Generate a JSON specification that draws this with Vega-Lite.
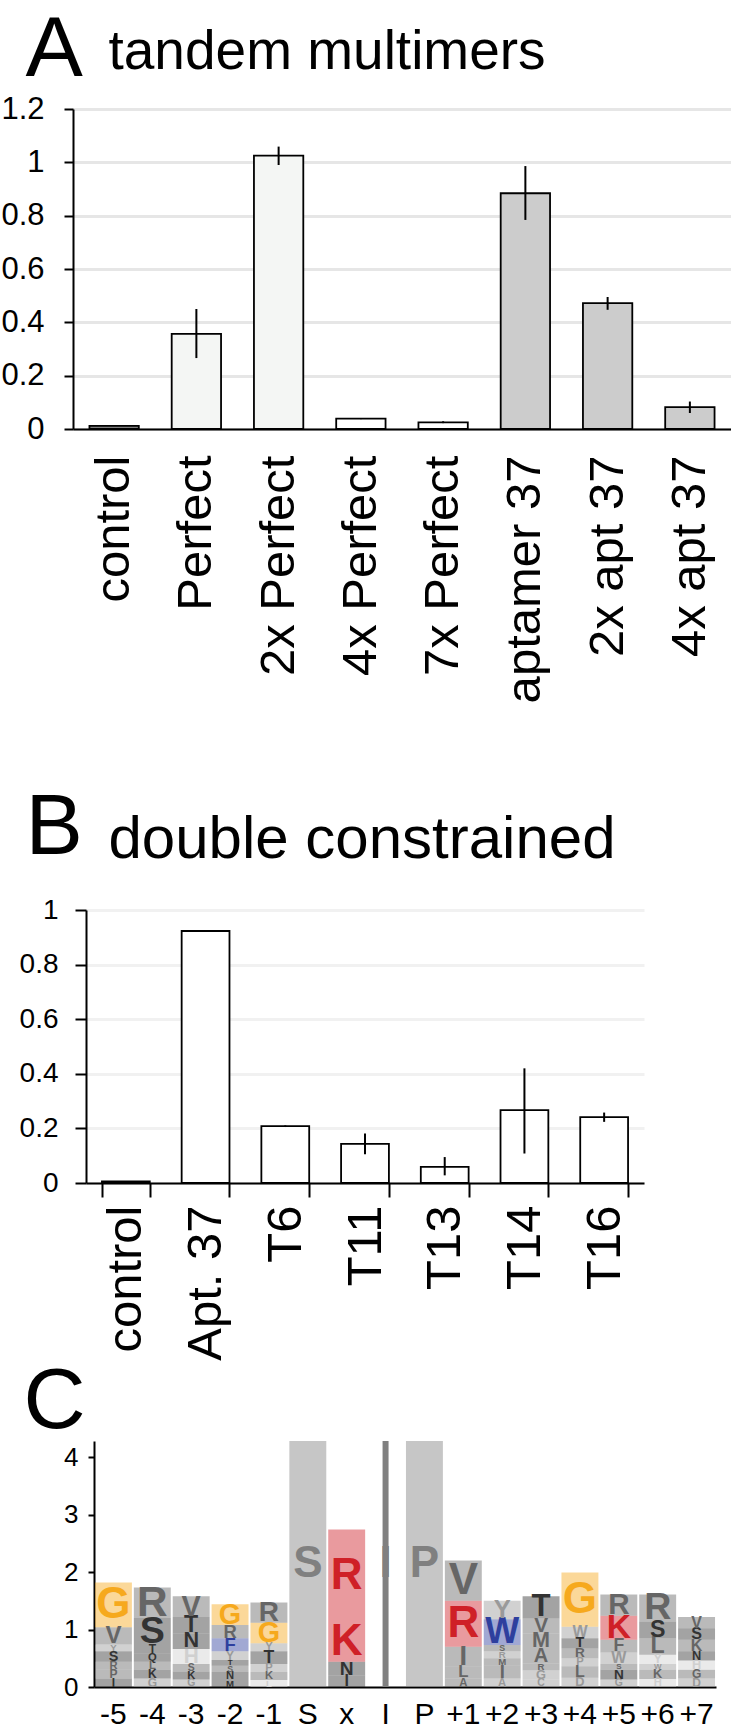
{
  "$schema": "https://vega.github.io/schema/vega-lite/v6.json",
  "background": "white",
  "padding": {"top": 6, "left": 0, "right": 0, "bottom": 0},
  "config": {
    "font": "Liberation Sans",
    "view": {"stroke": null},
    "axis": {"labelFont": "Liberation Sans", "titleFont": "Liberation Sans", "labelColor": "black", "titleColor": "black", "domainColor": "black", "tickColor": "black", "domainWidth": 2, "tickWidth": 2, "titleFontWeight": "normal", "labelLimit": 400, "titleLimit": 1000}
  },
  "spacing": 81,
  "vconcat": [
    {
      "width": 658,
      "height": 320,
      "data": {"values": [
        {"construct": "control", "group": "control", "mean": 0.012, "lo": 0.012, "hi": 0.012},
        {"construct": "Perfect", "group": "perfect", "mean": 0.357, "lo": 0.266, "hi": 0.45},
        {"construct": "2x Perfect", "group": "perfect", "mean": 1.025, "lo": 0.99, "hi": 1.059},
        {"construct": "4x Perfect", "group": "multi", "mean": 0.039, "lo": 0.037, "hi": 0.041},
        {"construct": "7x Perfect", "group": "multi", "mean": 0.025, "lo": 0.022, "hi": 0.029},
        {"construct": "aptamer 37", "group": "aptamer", "mean": 0.884, "lo": 0.784, "hi": 0.986},
        {"construct": "2x apt 37", "group": "aptamer", "mean": 0.472, "lo": 0.447, "hi": 0.495},
        {"construct": "4x apt 37", "group": "aptamer", "mean": 0.082, "lo": 0.06, "hi": 0.103}
      ]},
      "encoding": {
        "x": {"field": "construct", "type": "nominal", "sort": null,
          "scale": {"paddingInner": 0.4, "paddingOuter": 0.2},
          "axis": {"title": "tandem multimers", "titleX": 35, "titleY": -361, "titleAngle": 0, "titleAlign": "left", "titleBaseline": "alphabetic", "titleFontSize": 55,
            "labelAngle": -90, "labelFontSize": 49, "labelPadding": 26, "ticks": false, "tickSize": 0}}
      },
      "layer": [
        {
          "mark": {"type": "bar", "stroke": "black", "strokeWidth": 1.8},
          "encoding": {
            "y": {"field": "mean", "type": "quantitative",
              "scale": {"domain": [0, 1.2], "nice": false},
              "axis": {"title": "A", "titleX": -48, "titleY": -34, "titleAngle": 0, "titleAlign": "left", "titleBaseline": "alphabetic", "titleFontSize": 86,
                "values": [0, 0.2, 0.4, 0.6, 0.8, 1, 1.2], "format": "~g", "labelFontSize": 31, "labelPadding": 20, "tickSize": 9,
                "grid": true, "gridColor": "#e6e6e6", "gridWidth": 3}},
            "fill": {"field": "group", "type": "nominal",
              "scale": {"domain": ["control", "perfect", "multi", "aptamer"], "range": ["#7f7f7f", "#f4f6f4", "#ffffff", "#cccccc"]},
              "legend": null}
          }
        },
        {
          "mark": {"type": "rule", "color": "black", "strokeWidth": 2},
          "encoding": {
            "y": {"field": "lo", "type": "quantitative", "title": "A",
              "axis": {"title": "A", "titleX": -48, "titleY": -34, "titleAngle": 0, "titleAlign": "left", "titleBaseline": "alphabetic", "titleFontSize": 86,
                "values": [0, 0.2, 0.4, 0.6, 0.8, 1, 1.2], "format": "~g", "labelFontSize": 31, "labelPadding": 20, "tickSize": 9,
                "grid": true, "gridColor": "#e6e6e6", "gridWidth": 3}},
            "y2": {"field": "hi"}
          }
        }
      ]
    },
    {
      "spacing": -3,
      "vconcat": [
        {
          "width": 571,
          "height": 273,
          "data": {"values": [
            {"construct": "control", "mean": 0.006, "lo": 0.006, "hi": 0.006},
            {"construct": "Apt. 37", "mean": 0.923, "lo": 0.923, "hi": 0.923},
            {"construct": "T6", "mean": 0.208, "lo": 0.205, "hi": 0.211},
            {"construct": "T11", "mean": 0.143, "lo": 0.105, "hi": 0.181},
            {"construct": "T13", "mean": 0.059, "lo": 0.028, "hi": 0.095},
            {"construct": "T14", "mean": 0.267, "lo": 0.108, "hi": 0.42},
            {"construct": "T16", "mean": 0.241, "lo": 0.224, "hi": 0.258}
          ]},
          "encoding": {
            "x": {"field": "construct", "type": "nominal", "sort": null,
              "scale": {"range": [13, 571], "paddingInner": 0.4, "paddingOuter": 0.2},
              "axis": {"title": "double constrained", "titleX": 35, "titleY": -326, "titleAngle": 0, "titleAlign": "left", "titleBaseline": "alphabetic", "titleFontSize": 60,
                "labelAngle": -90, "labelFontSize": 49, "labelPadding": 8, "tickBand": "extent", "tickSize": 14}}
          },
          "layer": [
            {
              "mark": {"type": "bar", "stroke": "black", "strokeWidth": 1.8, "fill": "white"},
              "encoding": {
                "y": {"field": "mean", "type": "quantitative",
                  "scale": {"domain": [0, 1], "nice": false},
                  "axis": {"title": "B", "offset": -13, "titleX": -61, "titleY": -57, "titleAngle": 0, "titleAlign": "left", "titleBaseline": "alphabetic", "titleFontSize": 86,
                    "values": [0, 0.2, 0.4, 0.6, 0.8, 1], "format": "~g", "labelFontSize": 28, "labelPadding": 17, "tickSize": 11,
                    "grid": true, "gridColor": "#f1f1f1", "gridWidth": 3}}
              }
            },
            {
              "mark": {"type": "rule", "color": "black", "strokeWidth": 2},
              "encoding": {
                "y": {"field": "lo", "type": "quantitative", "title": "B",
                  "axis": {"title": "B", "offset": -13, "titleX": -61, "titleY": -57, "titleAngle": 0, "titleAlign": "left", "titleBaseline": "alphabetic", "titleFontSize": 86,
                    "values": [0, 0.2, 0.4, 0.6, 0.8, 1], "format": "~g", "labelFontSize": 28, "labelPadding": 17, "tickSize": 11,
                    "grid": true, "gridColor": "#f1f1f1", "gridWidth": 3}},
                "y2": {"field": "hi"}
              }
            }
          ]
        },
        {
          "width": 643,
          "height": 246,
          "data": {"values": [
            {"pos": "-5", "letter": "I", "bits": 0.15, "rank": 1, "tone": "dark"},
            {"pos": "-5", "letter": "P", "bits": 0.15, "rank": 2, "tone": "mid"},
            {"pos": "-5", "letter": "R", "bits": 0.14, "rank": 3, "tone": "mid"},
            {"pos": "-5", "letter": "S", "bits": 0.18, "rank": 4, "tone": "dark"},
            {"pos": "-5", "letter": "Y", "bits": 0.12, "rank": 5, "tone": "light"},
            {"pos": "-5", "letter": "V", "bits": 0.30, "rank": 6, "tone": "mid"},
            {"pos": "-5", "letter": "G", "bits": 0.78, "rank": 7, "tone": "orange"},
            {"pos": "-4", "letter": "G", "bits": 0.15, "rank": 1, "tone": "light"},
            {"pos": "-4", "letter": "K", "bits": 0.15, "rank": 2, "tone": "dark"},
            {"pos": "-4", "letter": "L", "bits": 0.14, "rank": 3, "tone": "mid"},
            {"pos": "-4", "letter": "Q", "bits": 0.14, "rank": 4, "tone": "dark"},
            {"pos": "-4", "letter": "T", "bits": 0.15, "rank": 5, "tone": "dark"},
            {"pos": "-4", "letter": "S", "bits": 0.47, "rank": 6, "tone": "dark"},
            {"pos": "-4", "letter": "R", "bits": 0.53, "rank": 7, "tone": "mid"},
            {"pos": "-3", "letter": "G", "bits": 0.13, "rank": 1, "tone": "light"},
            {"pos": "-3", "letter": "K", "bits": 0.14, "rank": 2, "tone": "dark"},
            {"pos": "-3", "letter": "S", "bits": 0.13, "rank": 3, "tone": "mid"},
            {"pos": "-3", "letter": "H", "bits": 0.26, "rank": 4, "tone": "pale"},
            {"pos": "-3", "letter": "N", "bits": 0.27, "rank": 5, "tone": "dark"},
            {"pos": "-3", "letter": "T", "bits": 0.29, "rank": 6, "tone": "dark"},
            {"pos": "-3", "letter": "V", "bits": 0.36, "rank": 7, "tone": "mid"},
            {"pos": "-2", "letter": "M", "bits": 0.12, "rank": 1, "tone": "dark"},
            {"pos": "-2", "letter": "N", "bits": 0.14, "rank": 2, "tone": "dark"},
            {"pos": "-2", "letter": "S", "bits": 0.11, "rank": 3, "tone": "mid"},
            {"pos": "-2", "letter": "T", "bits": 0.10, "rank": 4, "tone": "dark"},
            {"pos": "-2", "letter": "Y", "bits": 0.15, "rank": 5, "tone": "light"},
            {"pos": "-2", "letter": "F", "bits": 0.23, "rank": 6, "tone": "blue"},
            {"pos": "-2", "letter": "R", "bits": 0.23, "rank": 7, "tone": "mid"},
            {"pos": "-2", "letter": "G", "bits": 0.36, "rank": 8, "tone": "orange"},
            {"pos": "-1", "letter": "L", "bits": 0.12, "rank": 1, "tone": "pale"},
            {"pos": "-1", "letter": "K", "bits": 0.14, "rank": 2, "tone": "mid"},
            {"pos": "-1", "letter": "P", "bits": 0.14, "rank": 3, "tone": "light"},
            {"pos": "-1", "letter": "T", "bits": 0.22, "rank": 4, "tone": "dark"},
            {"pos": "-1", "letter": "Y", "bits": 0.14, "rank": 5, "tone": "light"},
            {"pos": "-1", "letter": "G", "bits": 0.36, "rank": 6, "tone": "orange"},
            {"pos": "-1", "letter": "R", "bits": 0.35, "rank": 7, "tone": "mid"},
            {"pos": "S", "letter": "S", "bits": 4.28, "rank": 1, "tone": "grey"},
            {"pos": "x", "letter": "I", "bits": 0.20, "rank": 1, "tone": "dark"},
            {"pos": "x", "letter": "N", "bits": 0.24, "rank": 2, "tone": "dark"},
            {"pos": "x", "letter": "K", "bits": 0.69, "rank": 3, "tone": "red"},
            {"pos": "x", "letter": "R", "bits": 1.61, "rank": 4, "tone": "red"},
            {"pos": "I", "letter": "I", "bits": 4.28, "rank": 1, "tone": "grey"},
            {"pos": "P", "letter": "P", "bits": 4.28, "rank": 1, "tone": "grey"},
            {"pos": "+1", "letter": "A", "bits": 0.15, "rank": 1, "tone": "mid"},
            {"pos": "+1", "letter": "L", "bits": 0.21, "rank": 2, "tone": "mid"},
            {"pos": "+1", "letter": "I", "bits": 0.34, "rank": 3, "tone": "mid"},
            {"pos": "+1", "letter": "R", "bits": 0.80, "rank": 4, "tone": "red"},
            {"pos": "+1", "letter": "V", "bits": 0.70, "rank": 5, "tone": "mid"},
            {"pos": "+2", "letter": "A", "bits": 0.15, "rank": 1, "tone": "light"},
            {"pos": "+2", "letter": "I", "bits": 0.23, "rank": 2, "tone": "mid"},
            {"pos": "+2", "letter": "M", "bits": 0.12, "rank": 3, "tone": "mid"},
            {"pos": "+2", "letter": "R", "bits": 0.12, "rank": 4, "tone": "light"},
            {"pos": "+2", "letter": "S", "bits": 0.11, "rank": 5, "tone": "mid"},
            {"pos": "+2", "letter": "W", "bits": 0.45, "rank": 6, "tone": "blue"},
            {"pos": "+2", "letter": "Y", "bits": 0.32, "rank": 7, "tone": "light"},
            {"pos": "+3", "letter": "C", "bits": 0.13, "rank": 1, "tone": "light"},
            {"pos": "+3", "letter": "G", "bits": 0.16, "rank": 2, "tone": "light"},
            {"pos": "+3", "letter": "R", "bits": 0.12, "rank": 3, "tone": "mid"},
            {"pos": "+3", "letter": "A", "bits": 0.25, "rank": 4, "tone": "mid"},
            {"pos": "+3", "letter": "M", "bits": 0.27, "rank": 5, "tone": "mid"},
            {"pos": "+3", "letter": "V", "bits": 0.26, "rank": 6, "tone": "mid"},
            {"pos": "+3", "letter": "T", "bits": 0.39, "rank": 7, "tone": "dark"},
            {"pos": "+4", "letter": "D", "bits": 0.16, "rank": 1, "tone": "light"},
            {"pos": "+4", "letter": "L", "bits": 0.20, "rank": 2, "tone": "mid"},
            {"pos": "+4", "letter": "P", "bits": 0.14, "rank": 3, "tone": "light"},
            {"pos": "+4", "letter": "R", "bits": 0.17, "rank": 4, "tone": "mid"},
            {"pos": "+4", "letter": "T", "bits": 0.18, "rank": 5, "tone": "dark"},
            {"pos": "+4", "letter": "W", "bits": 0.20, "rank": 6, "tone": "light"},
            {"pos": "+4", "letter": "G", "bits": 0.94, "rank": 7, "tone": "orange"},
            {"pos": "+5", "letter": "G", "bits": 0.13, "rank": 1, "tone": "light"},
            {"pos": "+5", "letter": "N", "bits": 0.17, "rank": 2, "tone": "dark"},
            {"pos": "+5", "letter": "S", "bits": 0.10, "rank": 3, "tone": "mid"},
            {"pos": "+5", "letter": "W", "bits": 0.20, "rank": 4, "tone": "light"},
            {"pos": "+5", "letter": "F", "bits": 0.22, "rank": 5, "tone": "mid"},
            {"pos": "+5", "letter": "K", "bits": 0.42, "rank": 6, "tone": "red"},
            {"pos": "+5", "letter": "R", "bits": 0.37, "rank": 7, "tone": "mid"},
            {"pos": "+6", "letter": "H", "bits": 0.14, "rank": 1, "tone": "pale"},
            {"pos": "+6", "letter": "K", "bits": 0.16, "rank": 2, "tone": "mid"},
            {"pos": "+6", "letter": "W", "bits": 0.10, "rank": 3, "tone": "light"},
            {"pos": "+6", "letter": "Y", "bits": 0.16, "rank": 4, "tone": "pale"},
            {"pos": "+6", "letter": "L", "bits": 0.29, "rank": 5, "tone": "mid"},
            {"pos": "+6", "letter": "S", "bits": 0.29, "rank": 6, "tone": "dark"},
            {"pos": "+6", "letter": "R", "bits": 0.47, "rank": 7, "tone": "mid"},
            {"pos": "+7", "letter": "D", "bits": 0.15, "rank": 1, "tone": "light"},
            {"pos": "+7", "letter": "G", "bits": 0.15, "rank": 2, "tone": "mid"},
            {"pos": "+7", "letter": "H", "bits": 0.16, "rank": 3, "tone": "pale"},
            {"pos": "+7", "letter": "N", "bits": 0.16, "rank": 4, "tone": "dark"},
            {"pos": "+7", "letter": "K", "bits": 0.20, "rank": 5, "tone": "mid"},
            {"pos": "+7", "letter": "S", "bits": 0.20, "rank": 6, "tone": "dark"},
            {"pos": "+7", "letter": "V", "bits": 0.20, "rank": 7, "tone": "mid"}
          ]},
          "encoding": {
            "x": {"field": "pos", "type": "nominal",
              "scale": {"domain": ["-5", "-4", "-3", "-2", "-1", "S", "x", "I", "P", "+1", "+2", "+3", "+4", "+5", "+6", "+7"], "range": [21, 643], "paddingInner": 0.05, "paddingOuter": 0.025},
              "axis": {"title": null, "labelAngle": 0, "labelFontSize": 30, "labelPadding": 12, "ticks": false, "tickSize": 0}},
            "y": {"field": "bits", "type": "quantitative", "stack": "zero",
              "scale": {"domain": [0, 4.28], "nice": false},
              "axis": {"title": "C", "offset": -21, "titleX": -71, "titleY": -14, "titleAngle": 0, "titleAlign": "left", "titleBaseline": "alphabetic", "titleFontSize": 86,
                "values": [0, 1, 2, 3, 4], "format": "d", "labelFontSize": 26, "labelPadding": 10, "tickSize": 6, "grid": false}},
            "color": {"field": "tone", "type": "nominal",
              "scale": {"domain": ["orange", "red", "blue", "dark", "mid", "grey", "light", "pale"], "range": ["#f6a91d", "#cf2027", "#2e3f9e", "#333333", "#666666", "#808080", "#9a9a9a", "#d0d0d0"]},
              "legend": null},
            "order": {"field": "rank", "type": "quantitative"}
          },
          "layer": [
            {
              "transform": [{"filter": "datum.pos !== 'I'"}],
              "mark": {"type": "bar", "opacity": 0.45}
            },
            {
              "transform": [{"filter": "datum.pos === 'I'"}],
              "mark": {"type": "bar", "size": 6}
            },
            {
              "mark": {"type": "text", "baseline": "middle", "fontWeight": "bold"},
              "encoding": {
                "y": {"field": "bits", "type": "quantitative", "stack": "zero", "bandPosition": 0.5,
                  "axis": {"title": "C", "offset": -21, "titleX": -71, "titleY": -14, "titleAngle": 0, "titleAlign": "left", "titleBaseline": "alphabetic", "titleFontSize": 86,
                    "values": [0, 1, 2, 3, 4], "format": "d", "labelFontSize": 26, "labelPadding": 10, "tickSize": 6, "grid": false}},
                "text": {"field": "letter"},
                "size": {"field": "bits", "type": "quantitative", "scale": {"domain": [0, 0.55], "range": [0, 44], "clamp": true}, "legend": null}
              }
            }
          ]
        }
      ]
    }
  ]
}
